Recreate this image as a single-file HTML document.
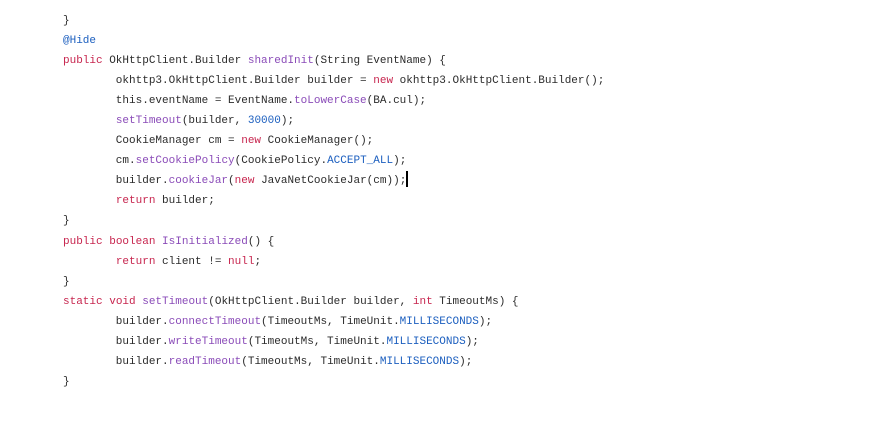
<!DOCTYPE html>
<html><head><style>
html,body{margin:0;padding:0;background:#fff;width:889px;height:431px;overflow:hidden}
pre{position:absolute;left:63px;top:11px;margin:0;font-family:"Liberation Mono",monospace;font-size:11px;line-height:20.05px;color:#2b2b2b}
.k{color:#c7254e}.m{color:#8a4bb8}.b{color:#1c5fbf}
.cur{display:inline-block;width:2px;height:16px;background:#000;vertical-align:-4px}
</style></head><body>
<pre>}
<span class="b">@Hide</span>
<span class="k">public</span> OkHttpClient.Builder <span class="m">sharedInit</span>(String EventName) {
        okhttp3.OkHttpClient.Builder builder = <span class="k">new</span> okhttp3.OkHttpClient.Builder();
        this.eventName = EventName.<span class="m">toLowerCase</span>(BA.cul);
        <span class="m">setTimeout</span>(builder, <span class="b">30000</span>);
        CookieManager cm = <span class="k">new</span> CookieManager();
        cm.<span class="m">setCookiePolicy</span>(CookiePolicy.<span class="b">ACCEPT_ALL</span>);
        builder.<span class="m">cookieJar</span>(<span class="k">new</span> JavaNetCookieJar(cm));<span class="cur"></span>
        <span class="k">return</span> builder;
}
<span class="k">public</span> <span class="k">boolean</span> <span class="m">IsInitialized</span>() {
        <span class="k">return</span> client != <span class="k">null</span>;
}
<span class="k">static</span> <span class="k">void</span> <span class="m">setTimeout</span>(OkHttpClient.Builder builder, <span class="k">int</span> TimeoutMs) {
        builder.<span class="m">connectTimeout</span>(TimeoutMs, TimeUnit.<span class="b">MILLISECONDS</span>);
        builder.<span class="m">writeTimeout</span>(TimeoutMs, TimeUnit.<span class="b">MILLISECONDS</span>);
        builder.<span class="m">readTimeout</span>(TimeoutMs, TimeUnit.<span class="b">MILLISECONDS</span>);
}</pre>
</body></html>
